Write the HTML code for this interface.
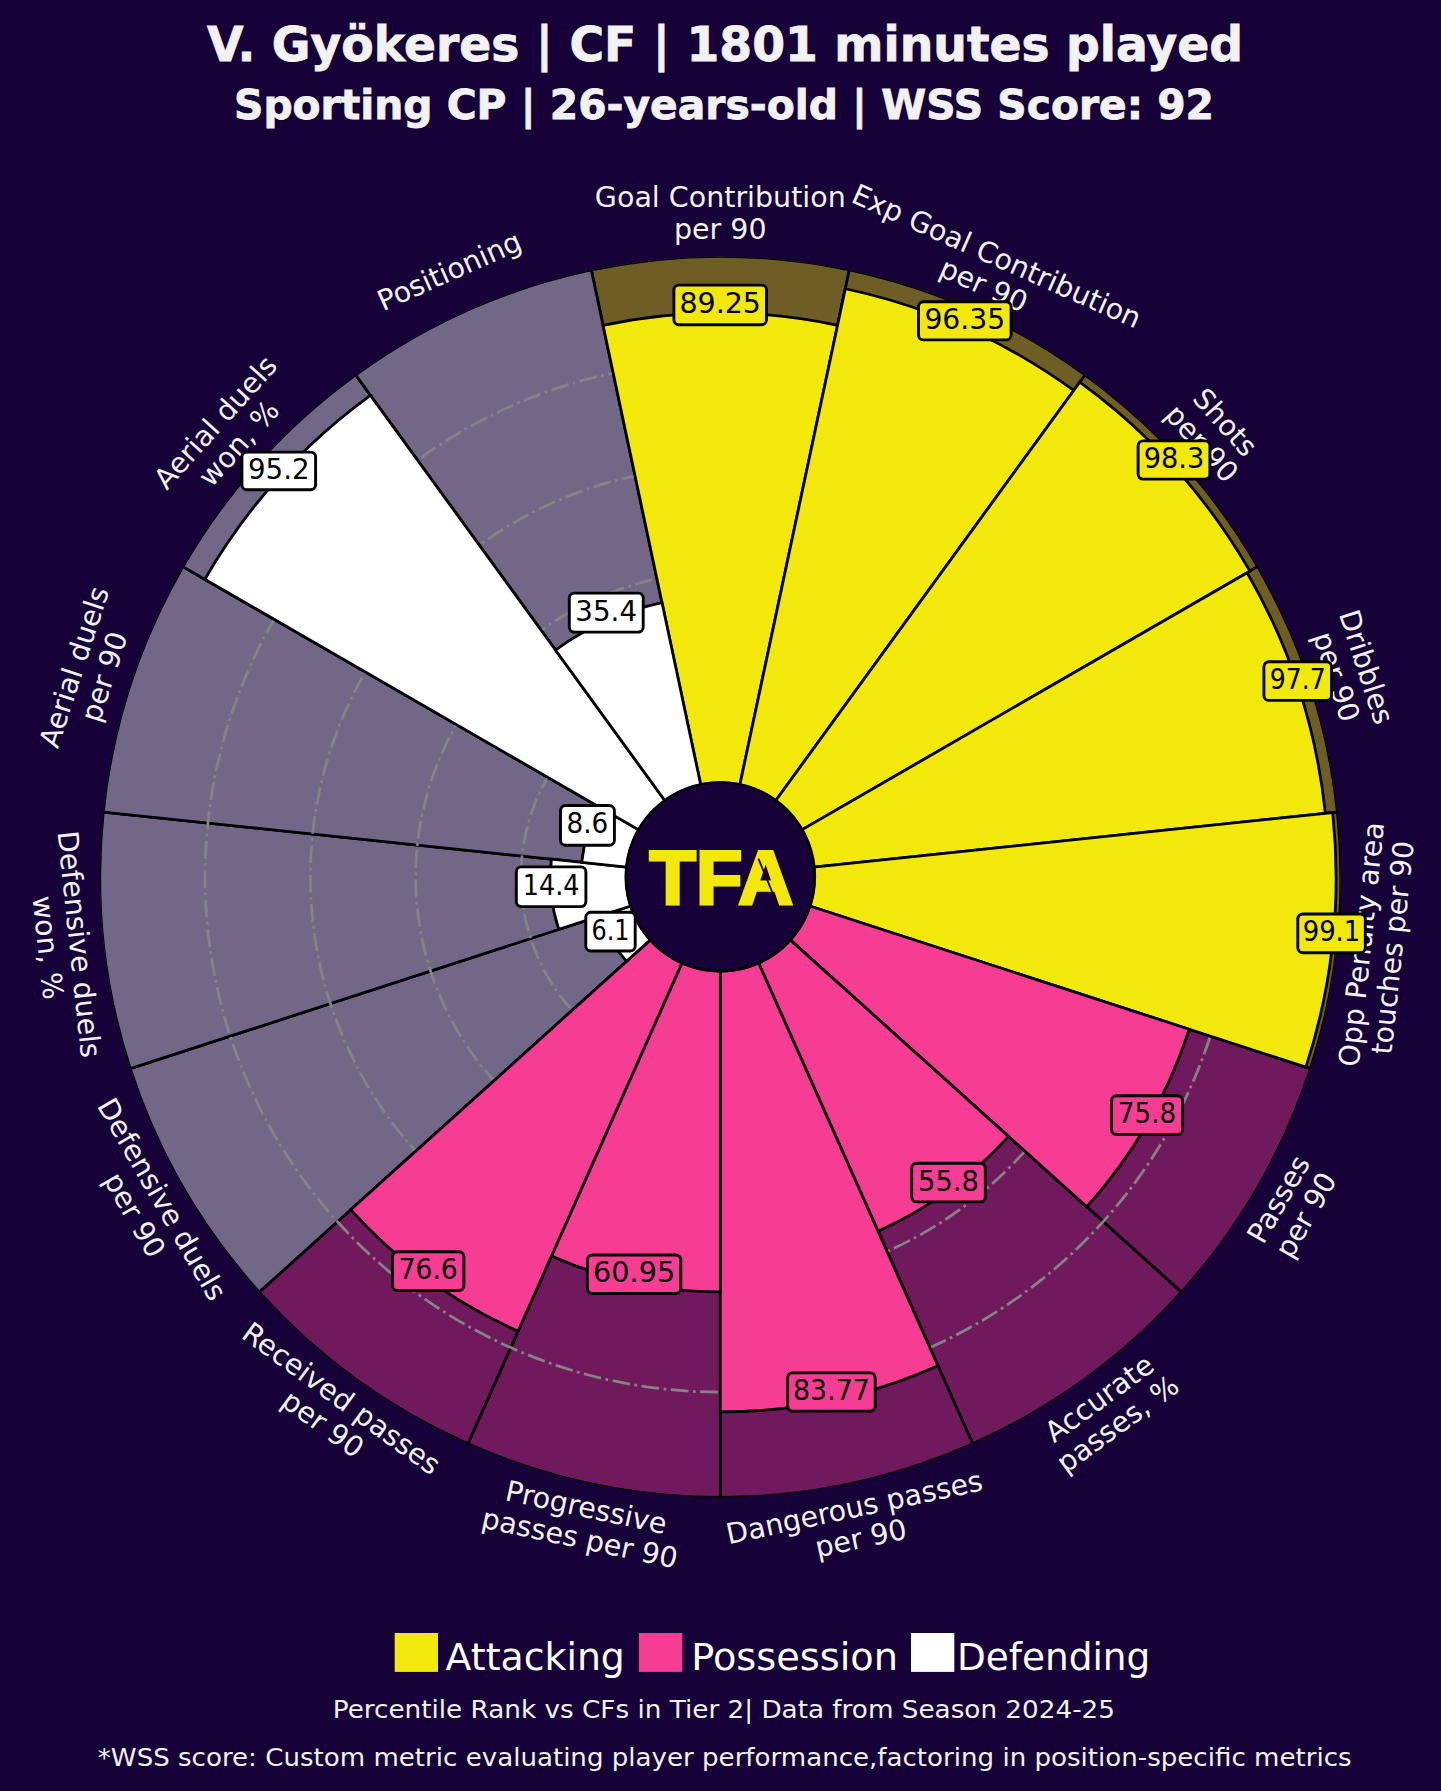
<!DOCTYPE html>
<html lang="en"><head><meta charset="utf-8"><title>V. Gyökeres pizza chart</title>
<style>html,body{margin:0;padding:0;background:#160239;}body{width:1441px;height:1791px;overflow:hidden;}</style>
</head><body>
<svg width="1441" height="1791" viewBox="0 0 1441 1791" style="display:block">
<rect width="1441" height="1791" fill="#160239"/>
<defs><clipPath id="oc"><circle cx="720.3" cy="876.9" r="620.5"/></clipPath></defs>
<g clip-path="url(#oc)" stroke="#000" stroke-width="2.78" stroke-linejoin="miter">
<path d="M700.74,784.86L591.29,269.96A620.50,620.50 0 0 1 849.31,269.96L739.86,784.86A94.10,94.10 0 0 0 700.74,784.86Z" fill="#6e5e26"/>
<path d="M739.86,784.86L849.31,269.96A620.50,620.50 0 0 1 1085.02,374.90L775.61,800.77A94.10,94.10 0 0 0 739.86,784.86Z" fill="#6e5e26"/>
<path d="M775.61,800.77L1085.02,374.90A620.50,620.50 0 0 1 1257.67,566.65L801.79,829.85A94.10,94.10 0 0 0 775.61,800.77Z" fill="#6e5e26"/>
<path d="M801.79,829.85L1257.67,566.65A620.50,620.50 0 0 1 1337.40,812.04L813.88,867.06A94.10,94.10 0 0 0 801.79,829.85Z" fill="#6e5e26"/>
<path d="M813.88,867.06L1337.40,812.04A620.50,620.50 0 0 1 1310.43,1068.65L809.79,905.98A94.10,94.10 0 0 0 813.88,867.06Z" fill="#6e5e26"/>
<path d="M809.79,905.98L1310.43,1068.65A620.50,620.50 0 0 1 1181.42,1292.10L790.23,939.87A94.10,94.10 0 0 0 809.79,905.98Z" fill="#701a5d"/>
<path d="M790.23,939.87L1181.42,1292.10A620.50,620.50 0 0 1 972.68,1443.75L758.57,962.86A94.10,94.10 0 0 0 790.23,939.87Z" fill="#701a5d"/>
<path d="M758.57,962.86L972.68,1443.75A620.50,620.50 0 0 1 720.30,1497.40L720.30,971.00A94.10,94.10 0 0 0 758.57,962.86Z" fill="#701a5d"/>
<path d="M720.30,971.00L720.30,1497.40A620.50,620.50 0 0 1 467.92,1443.75L682.03,962.86A94.10,94.10 0 0 0 720.30,971.00Z" fill="#701a5d"/>
<path d="M682.03,962.86L467.92,1443.75A620.50,620.50 0 0 1 259.18,1292.10L650.37,939.87A94.10,94.10 0 0 0 682.03,962.86Z" fill="#701a5d"/>
<path d="M650.37,939.87L259.18,1292.10A620.50,620.50 0 0 1 130.17,1068.65L630.81,905.98A94.10,94.10 0 0 0 650.37,939.87Z" fill="#736788"/>
<path d="M630.81,905.98L130.17,1068.65A620.50,620.50 0 0 1 103.20,812.04L626.72,867.06A94.10,94.10 0 0 0 630.81,905.98Z" fill="#736788"/>
<path d="M626.72,867.06L103.20,812.04A620.50,620.50 0 0 1 182.93,566.65L638.81,829.85A94.10,94.10 0 0 0 626.72,867.06Z" fill="#736788"/>
<path d="M638.81,829.85L182.93,566.65A620.50,620.50 0 0 1 355.58,374.90L664.99,800.77A94.10,94.10 0 0 0 638.81,829.85Z" fill="#736788"/>
<path d="M664.99,800.77L355.58,374.90A620.50,620.50 0 0 1 591.29,269.96L700.74,784.86A94.10,94.10 0 0 0 664.99,800.77Z" fill="#736788"/>
</g>
<g fill="none" stroke="#848484" stroke-width="2.78" stroke-dasharray="17.79 4.45 2.78 4.45">
<circle cx="720.3" cy="876.9" r="199.38" transform="rotate(-90 720.3 876.9)"/>
<circle cx="720.3" cy="876.9" r="304.66" transform="rotate(-90 720.3 876.9)"/>
<circle cx="720.3" cy="876.9" r="409.94" transform="rotate(-90 720.3 876.9)"/>
<circle cx="720.3" cy="876.9" r="515.22" transform="rotate(-90 720.3 876.9)"/>
</g>
<g stroke="#000" stroke-width="2.78" stroke-linejoin="miter">
<path d="M700.74,784.86L603.06,325.31A563.91,563.91 0 0 1 837.54,325.31L739.86,784.86A94.10,94.10 0 0 0 700.74,784.86Z" fill="#f2e80a"/>
<path d="M739.86,784.86L845.31,288.75A601.29,601.29 0 0 1 1073.73,390.45L775.61,800.77A94.10,94.10 0 0 0 739.86,784.86Z" fill="#f2e80a"/>
<path d="M775.61,800.77L1079.76,382.14A611.55,611.55 0 0 1 1249.92,571.12L801.79,829.85A94.10,94.10 0 0 0 775.61,800.77Z" fill="#f2e80a"/>
<path d="M801.79,829.85L1247.18,572.70A608.39,608.39 0 0 1 1325.36,813.31L813.88,867.06A94.10,94.10 0 0 0 801.79,829.85Z" fill="#f2e80a"/>
<path d="M813.88,867.06L1332.69,812.54A615.76,615.76 0 0 1 1305.92,1067.18L809.79,905.98A94.10,94.10 0 0 0 813.88,867.06Z" fill="#f2e80a"/>
<path d="M809.79,905.98L1189.28,1029.28A493.11,493.11 0 0 1 1086.75,1206.86L790.23,939.87A94.10,94.10 0 0 0 809.79,905.98Z" fill="#f73d93"/>
<path d="M790.23,939.87L1008.51,1136.41A387.83,387.83 0 0 1 878.05,1231.20L758.57,962.86A94.10,94.10 0 0 0 790.23,939.87Z" fill="#f73d93"/>
<path d="M758.57,962.86L937.93,1365.71A535.07,535.07 0 0 1 720.30,1411.97L720.30,971.00A94.10,94.10 0 0 0 758.57,962.86Z" fill="#f73d93"/>
<path d="M720.30,971.00L720.30,1291.84A414.94,414.94 0 0 1 551.53,1255.97L682.03,962.86A94.10,94.10 0 0 0 720.30,971.00Z" fill="#f73d93"/>
<path d="M682.03,962.86L518.02,1331.23A497.32,497.32 0 0 1 350.72,1209.67L650.37,939.87A94.10,94.10 0 0 0 682.03,962.86Z" fill="#f73d93"/>
<path d="M650.37,939.87L626.51,961.35A126.21,126.21 0 0 1 600.27,915.90L630.81,905.98A94.10,94.10 0 0 0 650.37,939.87Z" fill="#ffffff"/>
<path d="M630.81,905.98L558.71,929.40A169.90,169.90 0 0 1 551.33,859.14L626.72,867.06A94.10,94.10 0 0 0 630.81,905.98Z" fill="#ffffff"/>
<path d="M626.72,867.06L581.69,862.33A139.37,139.37 0 0 1 599.60,807.21L638.81,829.85A94.10,94.10 0 0 0 626.72,867.06Z" fill="#ffffff"/>
<path d="M638.81,829.85L204.81,579.28A595.23,595.23 0 0 1 370.43,395.35L664.99,800.77A94.10,94.10 0 0 0 638.81,829.85Z" fill="#ffffff"/>
<path d="M664.99,800.77L555.46,650.01A280.45,280.45 0 0 1 661.99,602.58L700.74,784.86A94.10,94.10 0 0 0 664.99,800.77Z" fill="#ffffff"/>
</g>
<circle cx="720.3" cy="876.7" r="94.6" fill="#160239" stroke="#000" stroke-width="2.4"/>
<text x="649.6" y="904.4" font-family="'Liberation Sans', 'DejaVu Sans', sans-serif" font-weight="bold" font-size="75.5" fill="#f2e80a" stroke="#f2e80a" stroke-width="3" stroke-linejoin="miter" textLength="143.5" lengthAdjust="spacingAndGlyphs">TFA</text>
<path d="M758.4,858.6L778,906" stroke="#160239" stroke-width="1.8" fill="none"/>
<g font-family="'DejaVu Sans', 'Liberation Sans', sans-serif" font-size="28.5" fill="#f2f2f2" text-anchor="middle">
<g transform="translate(720.3,214.9) rotate(-0.0)">
<text y="-7.5" textLength="250.9" lengthAdjust="spacingAndGlyphs">Goal Contribution</text><text y="24.0" textLength="92.7" lengthAdjust="spacingAndGlyphs">per 90</text>
</g>
<g transform="translate(989.6,272.1) rotate(24.0)">
<text y="-7.5" textLength="312.9" lengthAdjust="spacingAndGlyphs">Exp Goal Contribution</text><text y="24.0" textLength="92.7" lengthAdjust="spacingAndGlyphs">per 90</text>
</g>
<g transform="translate(1212.3,433.9) rotate(48.0)">
<text y="-7.5" textLength="79.6" lengthAdjust="spacingAndGlyphs">Shots</text><text y="24.0" textLength="92.7" lengthAdjust="spacingAndGlyphs">per 90</text>
</g>
<g transform="translate(1349.9,672.3) rotate(72.0)">
<text y="-7.5" textLength="118.1" lengthAdjust="spacingAndGlyphs">Dribbles</text><text y="24.0" textLength="92.7" lengthAdjust="spacingAndGlyphs">per 90</text>
</g>
<g transform="translate(1378.7,946.1) rotate(-84.0)">
<text y="-7.5" textLength="245.5" lengthAdjust="spacingAndGlyphs">Opp Penalty area</text><text y="24.0" textLength="214.5" lengthAdjust="spacingAndGlyphs">touches per 90</text>
</g>
<g transform="translate(1293.6,1207.9) rotate(-60.0)">
<text y="-7.5" textLength="95.4" lengthAdjust="spacingAndGlyphs">Passes</text><text y="24.0" textLength="92.7" lengthAdjust="spacingAndGlyphs">per 90</text>
</g>
<g transform="translate(1109.4,1412.5) rotate(-36.0)">
<text y="-7.5" textLength="126.3" lengthAdjust="spacingAndGlyphs">Accurate</text><text y="24.0" textLength="142.8" lengthAdjust="spacingAndGlyphs">passes, %</text>
</g>
<g transform="translate(857.9,1524.4) rotate(-12.0)">
<text y="-7.5" textLength="261.2" lengthAdjust="spacingAndGlyphs">Dangerous passes</text><text y="24.0" textLength="92.7" lengthAdjust="spacingAndGlyphs">per 90</text>
</g>
<g transform="translate(582.7,1524.4) rotate(12.0)">
<text y="-7.5" textLength="163.9" lengthAdjust="spacingAndGlyphs">Progressive</text><text y="24.0" textLength="199.4" lengthAdjust="spacingAndGlyphs">passes per 90</text>
</g>
<g transform="translate(331.2,1412.5) rotate(36.0)">
<text y="-7.5" textLength="236.4" lengthAdjust="spacingAndGlyphs">Received passes</text><text y="24.0" textLength="92.7" lengthAdjust="spacingAndGlyphs">per 90</text>
</g>
<g transform="translate(147.0,1207.9) rotate(60.0)">
<text y="-7.5" textLength="227.8" lengthAdjust="spacingAndGlyphs">Defensive duels</text><text y="24.0" textLength="92.7" lengthAdjust="spacingAndGlyphs">per 90</text>
</g>
<g transform="translate(61.9,946.1) rotate(84.0)">
<text y="-7.5" textLength="227.8" lengthAdjust="spacingAndGlyphs">Defensive duels</text><text y="24.0" textLength="104.0" lengthAdjust="spacingAndGlyphs">won, %</text>
</g>
<g transform="translate(90.7,672.3) rotate(-72.0)">
<text y="-7.5" textLength="167.1" lengthAdjust="spacingAndGlyphs">Aerial duels</text><text y="24.0" textLength="92.7" lengthAdjust="spacingAndGlyphs">per 90</text>
</g>
<g transform="translate(228.3,433.9) rotate(-48.0)">
<text y="-7.5" textLength="167.1" lengthAdjust="spacingAndGlyphs">Aerial duels</text><text y="24.0" textLength="104.0" lengthAdjust="spacingAndGlyphs">won, %</text>
</g>
<g transform="translate(451.0,272.1) rotate(-24.0)">
<text x="-1.1" y="8.2" textLength="154.1" lengthAdjust="spacingAndGlyphs">Positioning</text>
</g>
</g>
<g font-family="'DejaVu Sans', 'Liberation Sans', sans-serif" font-size="28.5" fill="#000" text-anchor="middle">
<rect x="673.9" y="285.1" width="92.6" height="39.7" rx="5" fill="#f2e80a" stroke="#000" stroke-width="2.9"/>
<text x="720.2" y="313.1" textLength="81.4" lengthAdjust="spacingAndGlyphs">89.25</text>
<rect x="918.5" y="301.7" width="92.6" height="38.2" rx="5" fill="#f2e80a" stroke="#000" stroke-width="2.9"/>
<text x="964.8" y="328.9" textLength="80.8" lengthAdjust="spacingAndGlyphs">96.35</text>
<rect x="1138.1" y="440.9" width="71.8" height="38.2" rx="5" fill="#f2e80a" stroke="#000" stroke-width="2.9"/>
<text x="1174.0" y="468.1" textLength="60.5" lengthAdjust="spacingAndGlyphs">98.3</text>
<rect x="1263.9" y="661.7" width="67.6" height="38.7" rx="5" fill="#f2e80a" stroke="#000" stroke-width="2.9"/>
<text x="1297.7" y="689.1" textLength="55.9" lengthAdjust="spacingAndGlyphs">97.7</text>
<rect x="1297.8" y="914.0" width="67.5" height="38.7" rx="5" fill="#f2e80a" stroke="#000" stroke-width="2.9"/>
<text x="1331.5" y="941.4" textLength="57.7" lengthAdjust="spacingAndGlyphs">99.1</text>
<rect x="1111.5" y="1095.7" width="71.1" height="38.7" rx="5" fill="#f73d93" stroke="#000" stroke-width="2.9"/>
<text x="1147.0" y="1123.1" textLength="58.4" lengthAdjust="spacingAndGlyphs">75.8</text>
<rect x="911.7" y="1163.2" width="73.6" height="38.7" rx="5" fill="#f73d93" stroke="#000" stroke-width="2.9"/>
<text x="948.5" y="1190.6" textLength="60.9" lengthAdjust="spacingAndGlyphs">55.8</text>
<rect x="787.6" y="1372.9" width="87.6" height="38.2" rx="5" fill="#f73d93" stroke="#000" stroke-width="2.9"/>
<text x="831.4" y="1400.1" textLength="76.8" lengthAdjust="spacingAndGlyphs">83.77</text>
<rect x="587.4" y="1255.0" width="93.4" height="38.5" rx="5" fill="#f73d93" stroke="#000" stroke-width="2.9"/>
<text x="634.1" y="1282.4" textLength="82.1" lengthAdjust="spacingAndGlyphs">60.95</text>
<rect x="392.5" y="1251.8" width="71.4" height="38.7" rx="5" fill="#f73d93" stroke="#000" stroke-width="2.9"/>
<text x="428.2" y="1279.2" textLength="59.0" lengthAdjust="spacingAndGlyphs">76.6</text>
<rect x="585.8" y="912.3" width="49.4" height="38.7" rx="5" fill="#ffffff" stroke="#000" stroke-width="2.9"/>
<text x="610.5" y="939.7" textLength="38.1" lengthAdjust="spacingAndGlyphs">6.1</text>
<rect x="516.3" y="866.9" width="69.6" height="39.7" rx="5" fill="#ffffff" stroke="#000" stroke-width="2.9"/>
<text x="551.1" y="894.8" textLength="56.8" lengthAdjust="spacingAndGlyphs">14.4</text>
<rect x="560.5" y="805.5" width="53.9" height="39.7" rx="5" fill="#ffffff" stroke="#000" stroke-width="2.9"/>
<text x="587.4" y="833.4" textLength="41.8" lengthAdjust="spacingAndGlyphs">8.6</text>
<rect x="241.9" y="452.1" width="73.7" height="37.7" rx="5" fill="#ffffff" stroke="#000" stroke-width="2.9"/>
<text x="278.8" y="479.1" textLength="61.7" lengthAdjust="spacingAndGlyphs">95.2</text>
<rect x="569.3" y="593.1" width="73.9" height="39.0" rx="5" fill="#ffffff" stroke="#000" stroke-width="2.9"/>
<text x="606.2" y="620.7" textLength="61.7" lengthAdjust="spacingAndGlyphs">35.4</text>
</g>
<g font-family="'DejaVu Sans', 'Liberation Sans', sans-serif" fill="#f2f2f2" stroke="#f2f2f2" stroke-width="0.8" text-anchor="middle">
<text x="725" y="61.3" font-size="48" font-weight="bold" textLength="1036" lengthAdjust="spacingAndGlyphs">V. Gyökeres | CF | 1801 minutes played</text>
<text x="724" y="119.3" font-size="40.5" font-weight="bold" textLength="980" lengthAdjust="spacingAndGlyphs">Sporting CP | 26-years-old | WSS Score: 92</text>
</g>
<rect x="394.7" y="1633" width="43.3" height="38.9" fill="#f2e80a"/>
<rect x="639" y="1633" width="43.3" height="38.9" fill="#f73d93"/>
<rect x="911" y="1633" width="43.3" height="38.9" fill="#ffffff"/>
<g font-family="'DejaVu Sans', 'Liberation Sans', sans-serif" fill="#ffffff" font-size="37">
<text x="445.6" y="1670.2" textLength="179.3" lengthAdjust="spacingAndGlyphs">Attacking</text>
<text x="691.2" y="1670.2" textLength="206.8" lengthAdjust="spacingAndGlyphs">Possession</text>
<text x="957" y="1670.2" textLength="193.2" lengthAdjust="spacingAndGlyphs">Defending</text>
</g>
<g font-family="'DejaVu Sans', 'Liberation Sans', sans-serif" fill="#f2f2f2" font-size="24.5">
<text x="332.8" y="1718" textLength="782.2" lengthAdjust="spacingAndGlyphs">Percentile Rank vs CFs in Tier 2| Data from Season 2024-25</text>
<text x="97.8" y="1765.5" textLength="1253.8" lengthAdjust="spacingAndGlyphs">*WSS score: Custom metric evaluating player performance,factoring in position-specific metrics</text>
</g>
</svg>
</body></html>
